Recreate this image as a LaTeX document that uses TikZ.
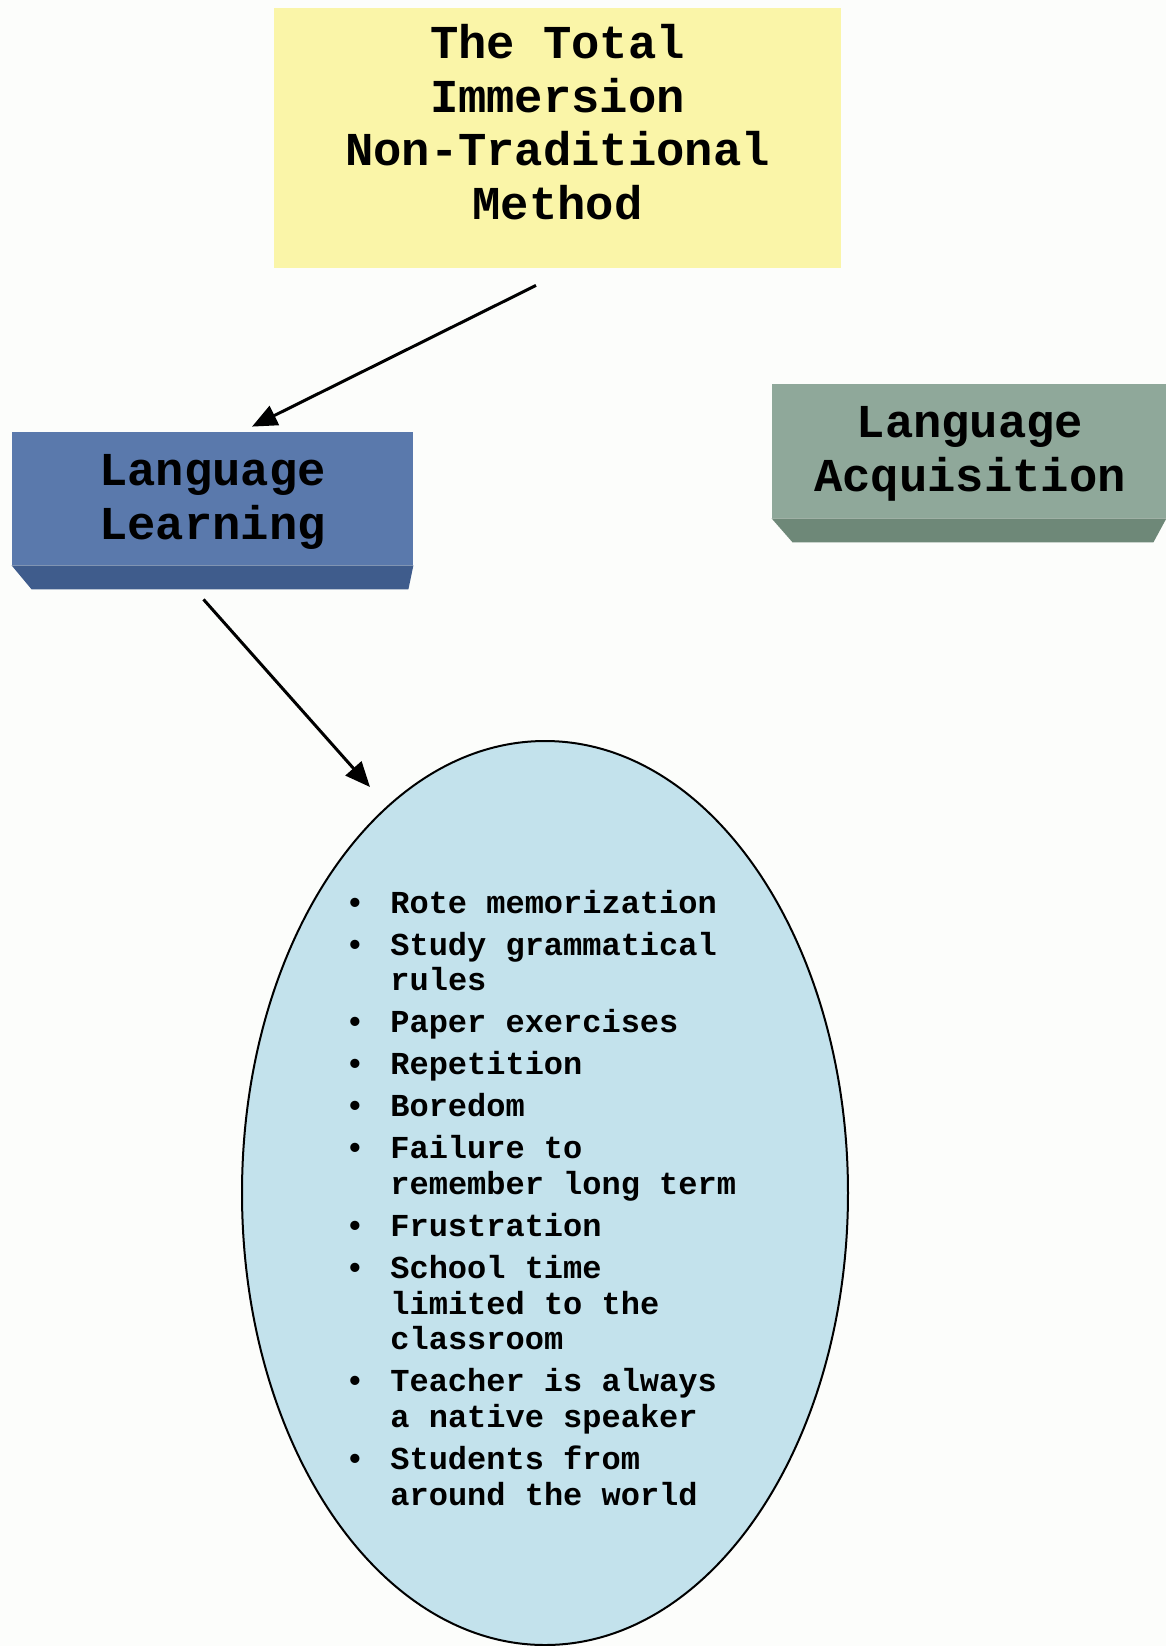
\documentclass[tikz,border=0pt]{standalone}
\usepackage{fontspec}
\newfontfamily\cour{Liberation Mono}
\usetikzlibrary{arrows.meta,shapes.geometric,calc}
\definecolor{bgc}{HTML}{FCFDFB}
\definecolor{yel}{HTML}{FAF5A8}
\definecolor{bluef}{HTML}{5A79AC}
\definecolor{blueb}{HTML}{3F5C8C}
\definecolor{greenf}{HTML}{8FA89A}
\definecolor{greenb}{HTML}{6E8878}
\definecolor{ellc}{HTML}{C3E2EC}
\tikzset{
  bigtext/.style={font=\cour\bfseries\fontsize{23.6pt}{26.75pt}\selectfont, align=center, text=black},
  boxfront/.style={inner sep=0pt, draw=none},
  arr/.style={line width=1.5pt, -{Triangle[length=12.5pt,width=10.5pt]}},
  listtext/.style={font=\cour\bfseries\fontsize{16pt}{17.85pt}\selectfont, inner sep=0pt, text=black}
}
\begin{document}
\begin{tikzpicture}[x=0.5pt,y=-0.5pt]
\fill[bgc] (0,0) rectangle (1166,1646);
\useasboundingbox (0,0) rectangle (1166,1646);

% top yellow box
\node[boxfront, fill=yel, minimum width=283.5pt, minimum height=130pt] (ybox) at (557.5,138) {};
\node[bigtext] (ytext) at (557.5,122) {The Total\\Immersion\\Non-Traditional\\Method};

% Language Learning box
\node[boxfront, fill=bluef, minimum width=200.5pt, minimum height=66.5pt] (learn) at (212.5,498.5) {};
\fill[blueb] (learn.south west) -- (learn.south east) -- ($(learn.south east)+(-5,24)$) -- ($(learn.south west)+(20,24)$) -- cycle;
\node[bigtext] (learntext) at ($(learn.center)+(0,3.5)$) {Language\\Learning};

% Language Acquisition box
\node[boxfront, fill=greenf, minimum width=197pt, minimum height=67pt] (acq) at (969,451) {};
\fill[greenb] (acq.south west) -- (acq.south east) -- ($(acq.south east)+(-13,24)$) -- ($(acq.south west)+(21,24)$) -- cycle;
\node[bigtext] (acqtext) at ($(acq.center)+(1,3)$) {Language\\Acquisition};

% ellipse
\node[ellipse, draw=black, line width=1pt, fill=ellc, inner sep=0pt, minimum width=303pt, minimum height=452pt] (ell) at (545,1193) {};

\node[listtext, anchor=base west] (list) at (345,913) {%
\begin{tabular}[t]{@{}p{22.5pt}@{}l@{}}
\textbullet & Rote memorization\\[3.15pt]
\textbullet & Study grammatical\\
 & rules\\[3.15pt]
\textbullet & Paper exercises\\[3.15pt]
\textbullet & Repetition\\[3.15pt]
\textbullet & Boredom\\[3.15pt]
\textbullet & Failure to\\
 & remember long term\\[3.15pt]
\textbullet & Frustration\\[3.15pt]
\textbullet & School time\\
 & limited to the\\
 & classroom\\[3.15pt]
\textbullet & Teacher is always\\
 & a native speaker\\[3.15pt]
\textbullet & Students from\\
 & around the world
\end{tabular}};

% arrows
\draw[arr] ($(ybox.south)+(-21.5,17)$) -- ($(learn.north)+(39.5,-5)$);
\draw[arr] ($(learn.south)+(-9,34)$) -- ($(ell.north)+(-175,47)$);
\end{tikzpicture}
\end{document}
